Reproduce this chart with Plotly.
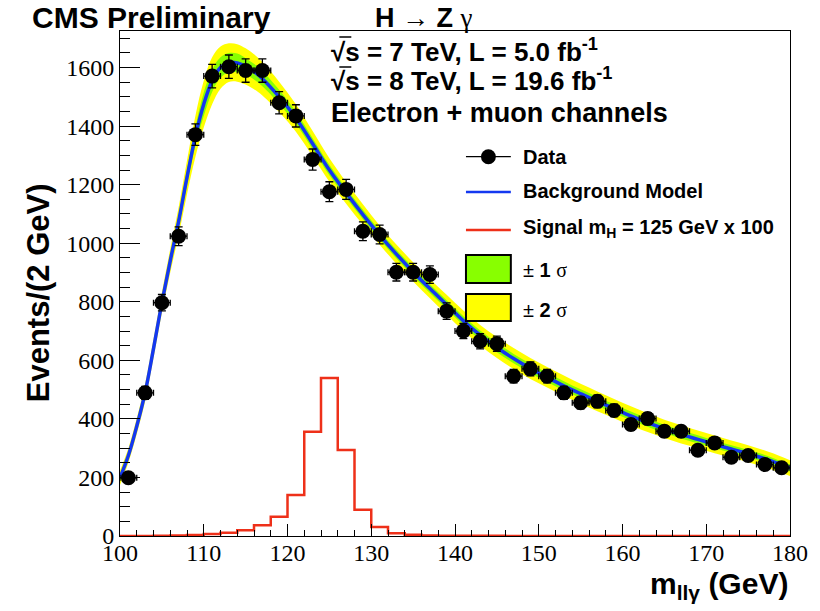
import plotly.graph_objects as go

# ---------------- data ----------------
x_data = [101, 103, 105, 107, 109, 111, 113, 115, 117, 119, 121, 123, 125, 127, 129, 131, 133, 135, 137, 139,
          141, 143, 145, 147, 149, 151, 153, 155, 157, 159, 161, 163, 165, 167, 169, 171, 173, 175, 177, 179]
y_data = [199, 489, 797, 1024, 1371, 1571, 1603, 1590, 1590, 1480, 1435, 1286, 1176, 1184, 1041, 1030, 901, 901, 893, 768,
          700, 665, 657, 546, 571, 546, 489, 455, 460, 429, 381, 401, 358, 358, 293, 318, 269, 275, 244, 233]
y_err = [14, 22, 28, 32, 37, 40, 40, 40, 40, 38, 38, 36, 34, 34, 32, 32, 30, 30, 30, 28,
         26, 26, 26, 23, 24, 23, 22, 21, 21, 21, 20, 20, 19, 19, 17, 18, 16, 17, 16, 15]
x_err = [1] * len(x_data)

x_bkg = [100, 101, 102, 103, 104, 105, 106, 107, 108, 109, 110, 111, 112, 113, 114, 115, 116, 117,
         119, 121, 123, 125, 127, 129, 131, 133, 135, 137, 139, 141, 143, 145, 147, 149, 151, 153, 155,
         157, 159, 161, 163, 165, 167, 169, 171, 173, 175, 177, 179, 180]
y_bkg = [199, 275, 375, 490, 640, 797, 940, 1075, 1225, 1365, 1475, 1555, 1600, 1617, 1616, 1604, 1586, 1562,
         1500, 1428, 1340, 1250, 1172, 1098, 1028, 963, 902, 845, 790, 735, 686, 644, 606, 572, 542, 513, 486,
         460, 435, 410, 387, 366, 347, 330, 313, 297, 281, 264, 243, 232]
err2 = [25, 25, 27, 30, 32, 35, 40, 48, 58, 70, 80, 80, 72, 66, 64, 62, 60, 57,
        52, 47, 43, 40, 37, 35, 33, 33, 33, 33, 34, 35, 35, 36, 36, 36, 35, 35, 34,
        34, 33, 33, 32, 31, 31, 30, 30, 29, 29, 28, 28, 27]
err1 = [11, 11, 12, 13, 14, 16, 18, 22, 26, 32, 40, 38, 35, 33, 32, 28, 27, 26,
        24, 21, 19, 18, 17, 16, 15, 15, 15, 15, 15, 16, 16, 16, 16, 16, 16, 16, 15,
        15, 15, 15, 14, 14, 14, 14, 13, 13, 13, 13, 12, 12]

sig_edges = list(range(100, 182, 2))
sig_vals = [0.3, 0.4, 0.6, 1.5, 3, 7, 11, 20, 37, 66, 140, 356, 540, 294, 90, 31, 9, 4, 2, 1.2,
            0.8, 0.6, 0.5, 0.4, 0.3, 0.3, 0.2, 0.2, 0.2, 0.2, 0.1, 0.1, 0.1, 0.1, 0.1, 0.1, 0.1, 0.1, 0.1, 0.1]

y_ticks = [0, 200, 400, 600, 800, 1000, 1200, 1400, 1600]
x_ticks = [100, 110, 120, 130, 140, 150, 160, 170, 180]

# ---------------- styling ----------------
W, H = 820, 611
ML, MR, MT, MB = 120, 28, 31, 75
PW, PH = W - ML - MR, H - MT - MB
SANS = "Liberation Sans"
SERIF = "Liberation Serif"
YELLOW = "#ffff00"
GREEN = "#88ff00"
BLUE = "#1438f0"
RED = "#ee3019"


def px(x):
    return (x - ML) / PW


def py(y):
    return (H - MB - y) / PH


lo2 = [b - e for b, e in zip(y_bkg, err2)]
hi2 = [b + e for b, e in zip(y_bkg, err2)]
lo1 = [b - e for b, e in zip(y_bkg, err1)]
hi1 = [b + e for b, e in zip(y_bkg, err1)]

fig = go.Figure()
fig.add_trace(go.Scatter(x=x_bkg, y=lo2, mode="lines", line=dict(width=0, shape="spline", color=YELLOW),
                         showlegend=False, hoverinfo="skip"))
fig.add_trace(go.Scatter(x=x_bkg, y=hi2, mode="lines", line=dict(width=0, shape="spline", color=YELLOW),
                         fill="tonexty", fillcolor=YELLOW, showlegend=False, hoverinfo="skip"))
fig.add_trace(go.Scatter(x=x_bkg, y=lo1, mode="lines", line=dict(width=0, shape="spline", color=GREEN),
                         showlegend=False, hoverinfo="skip"))
fig.add_trace(go.Scatter(x=x_bkg, y=hi1, mode="lines", line=dict(width=0, shape="spline", color=GREEN),
                         fill="tonexty", fillcolor=GREEN, showlegend=False, hoverinfo="skip"))
fig.add_trace(go.Scatter(x=x_bkg, y=y_bkg, mode="lines", line=dict(width=3.5, shape="spline", color=BLUE),
                         showlegend=False, name="Background Model"))
fig.add_trace(go.Scatter(x=sig_edges, y=sig_vals + [sig_vals[-1]], mode="lines",
                         line=dict(width=2.5, shape="hv", color=RED), showlegend=False,
                         name="Signal"))
fig.add_trace(go.Scatter(x=x_data, y=y_data, mode="markers",
                         marker=dict(size=15, color="black"),
                         error_y=dict(type="data", array=y_err, color="black", thickness=1.3, width=4),
                         error_x=dict(type="data", array=x_err, color="black", thickness=1.3, width=3),
                         showlegend=False, name="Data"))

fig.update_xaxes(range=[100, 180], tickvals=x_ticks, ticks="inside", ticklen=12, tickwidth=1,
                 tickcolor="black", showline=True, linecolor="black", linewidth=1, mirror=True,
                 showgrid=False, zeroline=False, ticklabelstandoff=-5,
                 minor=dict(ticks="inside", dtick=2, ticklen=6, tickcolor="black", tickwidth=1, showgrid=False),
                 tickfont=dict(family=SERIF, size=24, color="black"))
fig.update_yaxes(range=[0, 1725], tickvals=y_ticks, ticks="inside", ticklen=20, tickwidth=1,
                 tickcolor="black", showline=True, linecolor="black", linewidth=1, mirror=True,
                 showgrid=False, zeroline=False,
                 minor=dict(ticks="inside", dtick=50, ticklen=10, tickcolor="black", tickwidth=1, showgrid=False),
                 tickfont=dict(family=SERIF, size=24, color="black"))

ann = []


def text(x, y, s, size, xanchor="left", angle=0, family=SANS):
    ann.append(dict(x=px(x), y=py(y), xref="paper", yref="paper", text=s, showarrow=False,
                    xanchor=xanchor, yanchor="middle", textangle=angle,
                    font=dict(family=family, size=size, color="black")))


text(30, 18, "<b>CMS Preliminary</b>", 30)
text(374, 18, "<b>H</b> → <b>Z</b> <span style='font-family:Liberation Serif'>γ</span>", 27)
text(330, 50, "<b>√s = 7 TeV, L = 5.0 fb<sup>-1</sup></b>", 26)
text(330, 80, "<b>√s = 8 TeV, L = 19.6 fb<sup>-1</sup></b>", 26)
text(330, 113, "<b>Electron + muon channels</b>", 27)

# legend
LX0, LX1, TX = 467, 512, 522
text(TX, 157, "<b>Data</b>", 20)
text(TX, 191, "<b>Background Model</b>", 20)
text(TX, 228, "<b>Signal m<sub>H</sub> = 125 GeV x 100</b>", 20)
text(TX, 270, "± <b>1</b> <span style='font-family:Liberation Serif'>σ</span>", 20)
text(TX, 310, "± <b>2</b> <span style='font-family:Liberation Serif'>σ</span>", 20)

# axis titles
text(38, 293, "<b>Events/(2 GeV)</b>", 31, xanchor="center", angle=-90)
text(792, 585, "<b>m<sub>llγ</sub> (GeV)</b>", 30, xanchor="right")

shapes = [
    dict(type="line", xref="paper", yref="paper", x0=px(LX0), x1=px(LX1), y0=py(156.7), y1=py(156.7),
         line=dict(color="black", width=1.3)),
    dict(type="circle", xref="paper", yref="paper", x0=px(489.5 - 7.5), x1=px(489.5 + 7.5),
         y0=py(156.7 - 7.5), y1=py(156.7 + 7.5), fillcolor="black", line=dict(color="black", width=0)),
    dict(type="line", xref="paper", yref="paper", x0=px(LX0), x1=px(LX1), y0=py(192), y1=py(192),
         line=dict(color=BLUE, width=2.5)),
    dict(type="line", xref="paper", yref="paper", x0=px(LX0), x1=px(LX1), y0=py(230), y1=py(230),
         line=dict(color=RED, width=2.5)),
    dict(type="rect", xref="paper", yref="paper", x0=px(LX0), x1=px(LX1), y0=py(255), y1=py(283),
         fillcolor=GREEN, line=dict(color="black", width=2)),
    dict(type="rect", xref="paper", yref="paper", x0=px(LX0), x1=px(LX1), y0=py(294), y1=py(321),
         fillcolor=YELLOW, line=dict(color="black", width=2)),
    # overline of the square-root sign
    dict(type="line", xref="paper", yref="paper", x0=px(340), x1=px(352), y0=py(37), y1=py(37),
         line=dict(color="black", width=1.5)),
    dict(type="line", xref="paper", yref="paper", x0=px(340), x1=px(352), y0=py(67), y1=py(67),
         line=dict(color="black", width=1.5)),
]

fig.update_layout(width=W, height=H, margin=dict(l=ML, r=MR, t=MT, b=MB),
                  plot_bgcolor="white", paper_bgcolor="white", showlegend=False,
                  annotations=ann, shapes=shapes)

fig.write_html("out.html")
